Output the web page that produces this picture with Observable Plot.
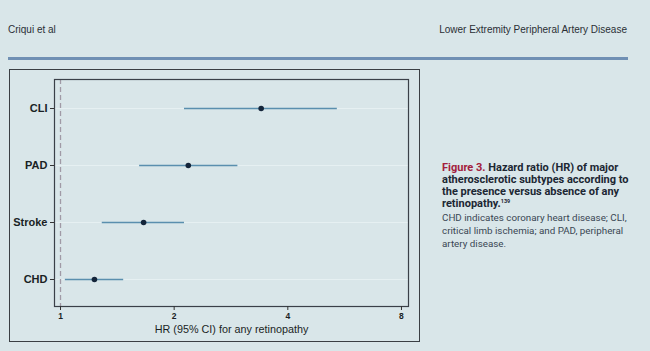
<!DOCTYPE html>
<html>
<head>
<meta charset="utf-8">
<script src="https://cdn.jsdelivr.net/npm/d3@7"></script>
<script src="https://cdn.jsdelivr.net/npm/@observablehq/plot@0.6"></script>
<style>
  html, body { margin: 0; padding: 0; }
  body { width: 650px; height: 351px; background: #d9e6e9; position: relative; overflow: hidden; font-family: "Liberation Sans", Arial, sans-serif; }
  .hdr { position: absolute; top: 24px; font-family: "Liberation Sans Narrow", "Liberation Sans", sans-serif; font-size: 10px; color: #2a2f35; }
  .bar { position: absolute; left: 8px; top: 57px; width: 620px; height: 3px; background: #7090b4; }
  #box { position: absolute; left: 9px; top: 69px; width: 409px; height: 271px; border: 1px solid #3a3f44; }
  #box svg { display: block; }
  .cap { position: absolute; left: 442px; top: 162px; width: 200px; color: #1c2733; font-family: Roboto, "Liberation Sans", sans-serif; white-space: nowrap; }
  .cap .t { font-weight: bold; font-size: 11px; line-height: 12px; }
  .cap .t .fig { color: #a3203c; }
  .cap .d { font-size: 9.8px; line-height: 13px; color: #3a4654; margin-top: 1.2px; }
  sup { font-size: 5.5px; line-height: 0; vertical-align: 4px; }
</style>
</head>
<body>
<div class="hdr" style="left:8px">Criqui et al</div>
<div class="hdr" style="right:23px">Lower Extremity Peripheral Artery Disease</div>
<div class="bar"></div>
<div id="box"></div>
<div class="cap">
  <div class="t"><span class="fig">Figure 3.</span> Hazard ratio (HR) of major<br>atherosclerotic subtypes according to<br>the presence versus absence of any<br>retinopathy.<sup>139</sup></div>
  <div class="d">CHD indicates coronary heart disease; CLI,<br>critical limb ischemia; and PAD, peripheral<br>artery disease.</div>
</div>
<script>
const outcomes = ["CLI", "PAD", "Stroke", "CHD"];
const hr      = [3.40, 2.18, 1.66, 1.23];
const ciLow   = [2.13, 1.62, 1.29, 1.03];
const ciHigh  = [5.41, 2.95, 2.13, 1.47];
const xTicks  = [1, 2, 4, 8];
const xLabel  = "HR (95% CI) for any retinopathy";

const data = outcomes.map((o, i) => ({outcome: o, hr: hr[i], lo: ciLow[i], hi: ciHigh[i]}));

const chart = Plot.plot({
  width: 409,
  height: 271,
  marginLeft: 44,
  marginRight: 11,
  marginTop: 9,
  marginBottom: 35,
  style: {background: "transparent", fontFamily: "Liberation Sans, Arial, sans-serif", color: "#1a1f24"},
  x: {type: "log", domain: [0.964, 8.35]},
  y: {type: "point", domain: outcomes, padding: 0, insetTop: 29, insetBottom: 27},
  marks: [
    Plot.gridY(outcomes, {stroke: "#e6f0f2", strokeOpacity: 1, strokeWidth: 1}),
    Plot.ruleX([1], {stroke: "#a09aa6", strokeWidth: 1.3, strokeDasharray: "5,3"}),
    Plot.ruleY(data, {y: "outcome", x1: "lo", x2: "hi", stroke: "#5a8fae", strokeWidth: 1.3}),
    Plot.dot(data, {x: "hr", y: "outcome", r: 2.8, fill: "#14253a", stroke: "none"}),
    Plot.frame({stroke: "#3a4048", strokeWidth: 1.2}),
    Plot.axisY({tickSize: 4, tickPadding: 3, fontSize: 11, fontWeight: "bold", label: null, stroke: "#333"}),
    Plot.axisX({ticks: xTicks, tickFormat: d => String(d), tickSize: 4, tickPadding: 2, fontSize: 8.5, fontWeight: "bold", label: null, stroke: "#333"}),
    Plot.axisX({ticks: [], label: xLabel, labelAnchor: "center", labelArrow: "none", labelOffset: 26, fontSize: 10.8})
  ]
});
document.getElementById("box").appendChild(chart);
</script>
</body>
</html>
